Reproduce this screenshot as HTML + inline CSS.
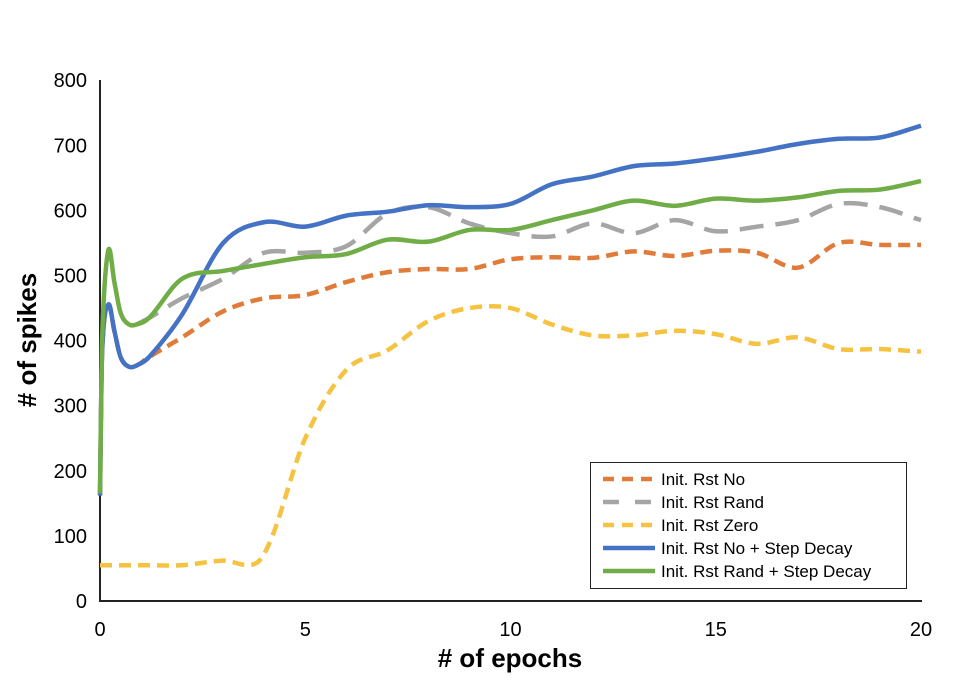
<!DOCTYPE html>
<html><head><meta charset="utf-8"><style>
body{margin:0;background:#fff}
svg text{font-family:"Liberation Sans",sans-serif}
</style></head><body>
<svg id="c" width="968" height="692" xmlns="http://www.w3.org/2000/svg">
<line x1="100" y1="80" x2="100" y2="602" stroke="#222" stroke-width="2"/>
<line x1="99" y1="601" x2="922" y2="601" stroke="#222" stroke-width="2"/>
<g id="ticks"></g>
<g id="lines"></g>
<text x="510" y="667" font-size="26" font-weight="bold" text-anchor="middle"># of epochs</text>
<text transform="translate(36,340) rotate(-90)" font-size="26" font-weight="bold" text-anchor="middle"># of spikes</text>
<g>
<rect x="590.5" y="462.5" width="316" height="126" fill="#fff" stroke="#222" stroke-width="1"/>
<g id="legend"></g>
</g>
</svg>
<script>
const yTicks=[0,100,200,300,400,500,600,700,800];
const xTicks=[0,5,10,15,20];
const seriesNames=["Init. Rst No","Init. Rst Rand","Init. Rst Zero","Init. Rst No + Step Decay","Init. Rst Rand + Step Decay"];
const noX=[0,0.05,0.2,0.35,0.5,0.7,0.9,1.2,2,3,4,5,6,7,8,9,10,11,12,13,14,15,16,17,18,19,20];
const noY=[162,380,455,415,375,360,362,375,405,445,465,470,490,505,510,510,525,528,527,537,530,538,535,512,550,547,547];
const randX=[0.9,1.2,2,3,4,5,6,7,8,9,10,11,12,13,14,15,16,17,18,19,20];
const randY=[425,435,465,495,535,535,545,595,605,580,565,560,580,565,585,568,575,585,610,605,585];
const zeroX=[0,1,2,3,3.8,4.2,5,6,7,8,9,10,11,12,13,14,15,16,17,18,19,20];
const zeroY=[55,55,55,62,58,100,250,355,385,430,450,450,425,408,408,415,410,395,405,387,387,383];
const blueX=[0,0.05,0.2,0.35,0.5,0.7,0.9,1.2,2,3,4,5,6,7,8,9,10,11,12,13,14,15,16,17,18,19,20];
const blueY=[162,380,455,415,375,360,362,375,440,550,582,575,592,598,608,605,610,640,652,668,672,680,690,702,710,712,730];
const greenX=[0,0.05,0.2,0.35,0.5,0.7,0.9,1.2,2,3,4,5,6,7,8,9,10,11,12,13,14,15,16,17,18,19,20];
const greenY=[165,400,538,490,443,425,425,435,495,507,518,528,533,555,552,570,570,585,600,615,607,618,615,620,630,632,645];
const xs=e=>100+e*41.05, ys=v=>601-v*0.651;
const NS="http://www.w3.org/2000/svg";
function mk(t,a,p){const e=document.createElementNS(NS,t);for(const k in a)e.setAttribute(k,a[k]);p.appendChild(e);return e;}
const tg=document.getElementById('ticks');
yTicks.forEach(v=>{const t=mk('text',{x:87,y:ys(v)+7,'font-size':20,'text-anchor':'end'},tg);t.textContent=v;

});
xTicks.forEach(v=>{const t=mk('text',{x:xs(v),y:636,'font-size':20,'text-anchor':'middle'},tg);t.textContent=v;

});
function path(X,Y){const p=X.map((x,i)=>[xs(x),ys(Y[i])]);const n=p.length;
const m=p.map((q,i)=>{const a=p[Math.max(0,i-1)],b=p[Math.min(n-1,i+1)];return (b[1]-a[1])/(b[0]-a[0]);});
let d=`M${p[0][0]},${p[0][1]}`;
for(let i=0;i<n-1;i++){const a=p[i],b=p[i+1],dx=(b[0]-a[0])/3;
d+=` C${a[0]+dx},${a[1]+m[i]*dx} ${b[0]-dx},${b[1]-m[i+1]*dx} ${b[0]},${b[1]}`;}return d;}
const lg=document.getElementById('lines');
const styles=[["#E07B39","12,7",noX,noY,"series-rst-no"],["#A5A5A5","24,12",randX,randY,"series-rst-rand"],["#F5C242","12,7",zeroX,zeroY,"series-rst-zero"],["#4472C4","",blueX,blueY,"series-rst-no-step-decay"],["#70AD47","",greenX,greenY,"series-rst-rand-step-decay"]];
styles.forEach(s=>{const e=mk('path',{d:path(s[2],s[3]),fill:'none',stroke:s[0],'stroke-width':4.5,'stroke-dasharray':s[1]},lg);

});
const leg=document.getElementById('legend');
seriesNames.forEach((n,i)=>{const y=479+i*23;
const l=mk('line',{x1:603,y1:y,x2:655,y2:y,stroke:styles[i][0],'stroke-width':4.5,'stroke-dasharray':i==1?'16,16':(styles[i][1]?'11,8':'')},leg);


const t=mk('text',{x:661,y:y+6,'font-size':17},leg);t.textContent=n;

});
</script>
</body></html>
